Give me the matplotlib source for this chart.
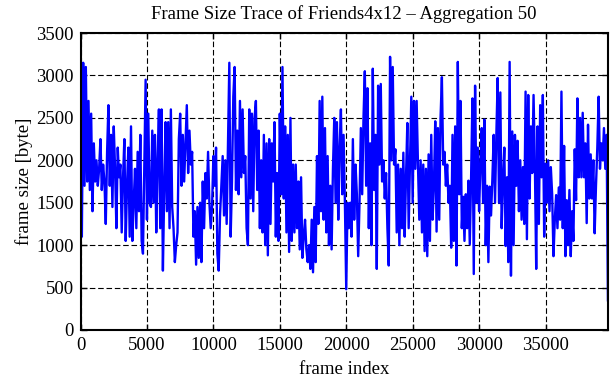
import numpy as np
import matplotlib
matplotlib.use("Agg")
from matplotlib import pyplot as plt

# frame sizes, one value every 100 frames
# split into chunks of ~5000 frames so they are easier to check
sizes_0 = [1200, 1100, 3150, 1700, 3100, 1750, 2700, 1650, 2550, 1400,
           2200, 1750, 2000, 1700, 1900, 2250, 1650, 1950, 1750, 1250,
           2100, 2650, 1700, 2300, 1450, 2400, 1900, 1200, 2150, 1800,
           1950, 1150, 1800, 2250, 1050, 1700, 2150, 1100, 2400, 1050,
           1500, 1900, 1200, 2100, 1400, 2300, 1050, 900, 1900, 2950,
           1300, 2550, 1500]
sizes_1 = [1450, 2350, 1500, 2300, 1150, 2000, 2600, 1200, 2600, 700,
           1650, 2450, 1400, 2450, 1200, 2600, 1450, 1200, 800, 1000,
           1150, 2250, 2550, 1700, 2300, 1750, 2200, 2650, 1850, 2350,
           1950, 2100, 1100, 1400, 770, 1450, 850, 1500, 800, 1750,
           1200, 1850, 1550, 2100, 1500, 1200, 1450, 2050, 1700, 2150]
sizes_2 = [900, 700, 1350, 1700, 2050, 1350, 2000, 1250, 2200, 3150,
           1100, 1750, 2750, 3100, 1650, 2350, 1600, 2700, 1800, 2600,
           1850, 2050, 1200, 1000, 2600, 1550, 2550, 1400, 2500, 2700,
           1650, 2350, 1200, 2000, 1150, 2300, 1000, 2200, 880, 2250,
           1250, 2200, 1750, 2450, 1100, 1850, 1050, 2550, 1600, 3100,
           1550]
sizes_3 = [2400, 1150, 2300, 920, 2500, 1050, 1950, 1150, 1950, 1200,
           1750, 950, 1800, 850, 1100, 1300, 950, 800, 1000, 720,
           1300, 680, 1450, 800, 2050, 1250, 2700, 1400, 2750, 1300,
           2380, 1150, 2050, 1000, 1700, 950, 1900, 2500, 1500, 2450,
           1300, 2150, 2600, 1600, 2300, 1500, 480, 1500, 1200, 1500]
sizes_4 = [1100, 2250, 1300, 1950, 1600, 870, 1500, 2380, 1600, 2500,
           3050, 1700, 2850, 1200, 2200, 1000, 3080, 1650, 2300, 720,
           2880, 1950, 2900, 1750, 2000, 1550, 1850, 1200, 760, 3220,
           2000, 3100, 1950, 2130, 1150, 1950, 1000, 1900, 1200, 2090,
           1100, 1800, 2440, 1200, 1950, 2750, 1500, 2700, 1900, 2700,
           1950]
sizes_5 = [1300, 2000, 1150, 1950, 930, 1900, 870, 2070, 1050, 2300,
           1300, 1700, 2460, 1160, 2380, 1300, 2500, 2980, 1950, 2100,
           1700, 1950, 1500, 1700, 970, 2300, 1050, 2400, 760, 3160,
           1600, 2700, 1200, 1570, 1050, 1600, 1200, 1760, 1010, 1800,
           2730, 660, 2880, 1500, 2150, 1400, 1950, 2380, 1500, 2480]
sizes_6 = [1000, 1700, 800, 1690, 1350, 1780, 2300, 1500, 2300, 2970,
           1500, 2800, 1200, 1760, 2150, 990, 1800, 800, 3160, 640,
           2340, 1000, 2300, 1700, 2230, 1400, 2000, 1300, 1920, 1250,
           2810, 1070, 2770, 1550, 2400, 1850, 2770, 1960, 720, 2400,
           1250, 2650, 1800, 2770, 1100, 1960, 1500, 2000, 1400, 1920,
           1600]
sizes_7 = [870, 1300, 1590, 1200, 1680, 1300, 2810, 1200, 2170, 870,
           1530, 1000, 1650, 870, 1400, 1050, 2130, 1530, 2730, 1800,
           2500, 1800, 2560, 1800, 2200, 1260, 2420, 1550, 2070, 1550,
           2000, 1140, 1700, 2150, 2750, 1900, 2200, 2000, 2380, 1900,
           2300, 350]

frame_size = np.array(sizes_0 + sizes_1 + sizes_2 + sizes_3 +
                      sizes_4 + sizes_5 + sizes_6 + sizes_7)
frame_index = np.arange(len(frame_size)) * 100

plt.rcParams['font.family'] = ['Liberation Serif', 'DejaVu Serif']

fig = plt.figure(figsize=(6.11, 3.80), dpi=100)
ax = fig.add_axes([0.1318, 0.1316, 0.995 - 0.1318, 0.913 - 0.1316])

ax.plot(frame_index, frame_size, color=(0, 0, 1), linewidth=1.7)

ax.set_xlim(0, frame_index[-1])
ax.set_ylim(0, 3500)
ax.set_xticks(np.arange(0, 40000, 5000))
ax.set_yticks(np.arange(0, 3501, 500))

# gnuplot look: dashed grid, ticks inside on all four sides
ax.grid(True, color='black', linestyle=(0, (5, 2.5)), linewidth=0.8)
ax.tick_params(direction='in', length=4, width=1, top=True, right=True,
               pad=5, labelsize=13.5)
for s in ax.spines.values():
    s.set_linewidth(1.5)

ax.set_title("Frame Size Trace of Friends4x12 \u2013 Aggregation 50",
             fontsize=13.5, pad=10)
ax.set_xlabel("frame index", fontsize=13.5, labelpad=5)
ax.set_ylabel("frame size [byte]", fontsize=13.5, labelpad=2)

fig.savefig("out.png", dpi=100)
